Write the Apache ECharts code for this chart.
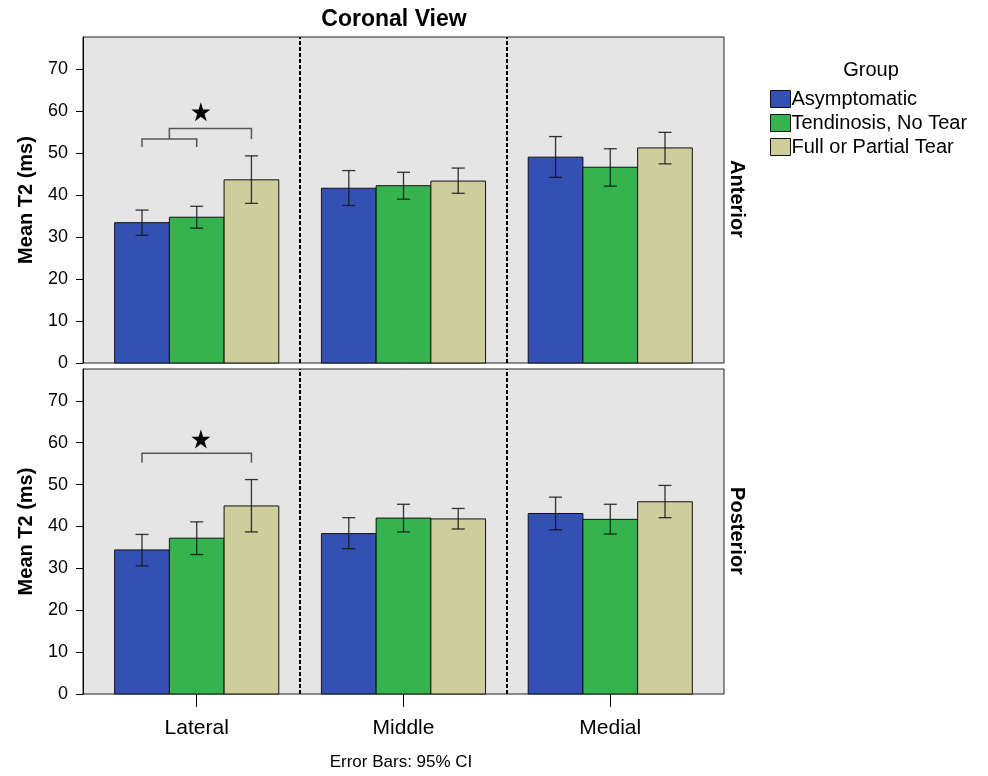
<!DOCTYPE html>
<html>
<head>
<meta charset="utf-8">
<script src="https://cdn.jsdelivr.net/npm/echarts@6/dist/echarts.min.js"></script>
<style>
  html, body { margin: 0; padding: 0; background: #fff; }
  #chart { width: 988px; height: 776px; }
</style>
</head>
<body>
<div id="chart"></div>
<script>
var categories = ["Lateral", "Middle", "Medial"]
var groups = ["Asymptomatic", "Tendinosis, No Tear", "Full or Partial Tear"]
var yTicks = [0, 10, 20, 30, 40, 50, 60, 70]

// anterior panel, one row per group, one value per category
var anteriorMean = [[33.4, 41.6, 49.0], [34.7, 42.2, 46.6], [43.6, 43.3, 51.2]]
var anteriorLow  = [[30.4, 37.5, 44.2], [32.1, 39.0, 42.1], [38.0, 40.4, 47.4]]
var anteriorHigh = [[36.4, 45.8, 53.9], [37.3, 45.4, 51.0], [49.3, 46.4, 54.9]]

// posterior panel
var posteriorMean = [[34.4, 38.3, 43.1], [37.2, 42.0, 41.7], [44.9, 41.8, 45.9]]
var posteriorLow  = [[30.6, 34.7, 39.2], [33.3, 38.7, 38.2], [38.7, 39.4, 42.1]]
var posteriorHigh = [[38.1, 42.1, 47.0], [41.1, 45.3, 45.3], [51.2, 44.3, 49.8]]

// significance brackets: [category, from group, to group, top, left end, right end]
var anteriorBrackets = [[0, 0, 1, 53.3, 51.4, 51.4], [0, 0.5, 2, 55.8, 53.3, 53.3]]
var posteriorBrackets = [[0, 0, 2, 57.5, 55.2, 55.2]]
// stars: [category, value]
var anteriorStars = [[0.02, 59.8]]
var posteriorStars = [[0.02, 60.9]]

var colors = ["#3550b4", "#34b34f", "#cecd9c"]
var BW = 0.2646   // bar width in category units
var starPath = "path://M50,0 L61.2,34.5 L97.6,34.5 L68.2,55.9 L79.4,90.5 L50,69.1 L20.6,90.5 L31.8,55.9 L2.4,34.5 L38.8,34.5 Z"
var FONT = "Liberation Sans, Arial, sans-serif"

var chart = echarts.init(document.getElementById("chart"))

function groupX(cat, g){
    return cat + (g - 1) * BW
}

function barItem(g){
    return function(params, api){
        var c = groupX(api.value(0), g)
        var p0 = api.coord([c - BW / 2, 0])
        var p1 = api.coord([c + BW / 2, api.value(1)])
        return {
            type: "rect",
            shape: { x: p0[0], y: p1[1], width: p1[0] - p0[0], height: p0[1] - p1[1] },
            style: { fill: colors[g], stroke: "#111", lineWidth: 1 }
        }
    }
}

function errItem(params, api){
    var c = groupX(api.value(0), api.value(3))
    var lo = api.coord([c, api.value(1)])
    var hi = api.coord([c, api.value(2)])
    var w = 6.5
    var st = { stroke: "rgba(20,20,20,0.85)", lineWidth: 1.3 }
    return {
        type: "group",
        children: [
            { type: "line", shape: { x1: lo[0], y1: lo[1], x2: hi[0], y2: hi[1] }, style: st },
            { type: "line", shape: { x1: lo[0] - w, y1: lo[1], x2: lo[0] + w, y2: lo[1] }, style: st },
            { type: "line", shape: { x1: hi[0] - w, y1: hi[1], x2: hi[0] + w, y2: hi[1] }, style: st }
        ]
    }
}

function bracketItem(params, api){
    var cat = api.value(0)
    var a = groupX(cat, api.value(1))
    var b = groupX(cat, api.value(2))
    var pl = api.coord([a, api.value(4)])
    var tl = api.coord([a, api.value(3)])
    var tr = api.coord([b, api.value(3)])
    var pr = api.coord([b, api.value(5)])
    return {
        type: "polyline",
        shape: { points: [pl, tl, tr, pr] },
        style: { stroke: "#555", lineWidth: 1.5, fill: null }
    }
}

function panelSeries(idx, mean, low, high, brackets, stars){
    var list = []
    groups.forEach(function(name, g){
        var s = {
            name: name,
            type: "custom",
            xAxisIndex: idx,
            yAxisIndex: idx,
            itemStyle: { color: colors[g] },
            renderItem: barItem(g),
            encode: { x: 0, y: 1 },
            data: mean[g].map(function(v, c){ return [c, v] }),
            silent: true
        }
        if (g === 0) {
            s.markLine = {
                silent: true,
                symbol: "none",
                label: { show: false },
                lineStyle: { color: "#000", type: [4, 2], width: 2 },
                data: [{ xAxis: 0.5 }, { xAxis: 1.5 }]
            }
        }
        list.push(s)
    })
    var err = []
    groups.forEach(function(name, g){
        categories.forEach(function(cat, c){
            err.push([c, low[g][c], high[g][c], g])
        })
    })
    list.push({
        type: "custom",
        xAxisIndex: idx,
        yAxisIndex: idx,
        renderItem: errItem,
        encode: { x: 0, y: [1, 2] },
        data: err,
        silent: true,
        z: 3
    })
    list.push({
        type: "custom",
        xAxisIndex: idx,
        yAxisIndex: idx,
        renderItem: bracketItem,
        encode: { x: 0, y: [3, 4, 5] },
        data: brackets,
        silent: true,
        z: 3
    })
    list.push({
        type: "scatter",
        xAxisIndex: idx,
        yAxisIndex: idx,
        symbol: starPath,
        symbolSize: 19,
        itemStyle: { color: "#000", opacity: 1 },
        data: stars,
        silent: true,
        z: 4
    })
    return list
}

function xAxisOf(idx, showLabels){
    return {
        type: "value",
        gridIndex: idx,
        min: -0.55,
        max: 2.55,
        splitLine: { show: false },
        axisLine: { show: false, onZero: false },
        axisTick: {
            show: showLabels,
            customValues: [0, 1, 2],
            length: 13,
            lineStyle: { color: "#000" }
        },
        axisLabel: {
            show: showLabels,
            customValues: [0, 1, 2],
            margin: 24,
            fontFamily: FONT,
            fontSize: 21,
            color: "#000",
            formatter: function(v){ return categories[Math.round(v)] }
        }
    }
}

function yAxisOf(idx){
    return {
        type: "value",
        gridIndex: idx,
        min: 0,
        max: 77.6,
        interval: 10,
        name: "Mean T2 (ms)",
        nameLocation: "middle",
        nameGap: 47,
        nameTextStyle: { fontFamily: FONT, fontSize: 20, fontWeight: "bold", color: "#000" },
        splitLine: { show: false },
        axisLine: { show: true, onZero: false, lineStyle: { color: "#000" } },
        axisTick: { show: true, length: 7, customValues: yTicks, lineStyle: { color: "#000" } },
        axisLabel: {
            customValues: yTicks,
            fontFamily: FONT,
            fontSize: 18,
            color: "#000",
            margin: 15
        }
    }
}

var option = {
    backgroundColor: "#fff",
    animation: false,
    legend: {
        orient: "vertical",
        left: 765, top: 84,
        itemWidth: 20, itemHeight: 17, itemGap: 4,
        icon: "rect",
        itemStyle: { borderColor: "#111", borderWidth: 1 },
        textStyle: { fontFamily: FONT, fontSize: 20, color: "#000", padding: [0, 0, 0, -4] },
        data: groups,
        selectedMode: false
    },
    grid: [
        { left: 83, top: 37, width: 641, height: 326, show: true, backgroundColor: "#e5e5e5", borderColor: "#222", borderWidth: 1 },
        { left: 83, top: 369, width: 641, height: 325, show: true, backgroundColor: "#e5e5e5", borderColor: "#222", borderWidth: 1 }
    ],
    xAxis: [xAxisOf(0, false), xAxisOf(1, true)],
    yAxis: [yAxisOf(0), yAxisOf(1)],
    graphic: [
        {
            type: "text", x: 394, y: 20,
            style: { text: "Coronal View", fontFamily: FONT, fontSize: 23, fontWeight: "bold", fill: "#000", align: "center", verticalAlign: "middle" }
        },
        {
            type: "text", x: 871, y: 70,
            style: { text: "Group", fontFamily: FONT, fontSize: 20, fill: "#000", align: "center", verticalAlign: "middle" }
        },
        {
            type: "text", x: 401, y: 762,
            style: { text: "Error Bars: 95% CI", fontFamily: FONT, fontSize: 17, fill: "#000", align: "center", verticalAlign: "middle" }
        },
        {
            type: "text", x: 737, y: 199, rotation: -Math.PI / 2,
            style: { text: "Anterior", fontFamily: FONT, fontSize: 20, fontWeight: "bold", fill: "#000", align: "center", verticalAlign: "middle" }
        },
        {
            type: "text", x: 737, y: 531, rotation: -Math.PI / 2,
            style: { text: "Posterior", fontFamily: FONT, fontSize: 20, fontWeight: "bold", fill: "#000", align: "center", verticalAlign: "middle" }
        }
    ],
    series: []
        .concat(panelSeries(0, anteriorMean, anteriorLow, anteriorHigh, anteriorBrackets, anteriorStars))
        .concat(panelSeries(1, posteriorMean, posteriorLow, posteriorHigh, posteriorBrackets, posteriorStars))
}

chart.setOption(option)
</script>
</body>
</html>
